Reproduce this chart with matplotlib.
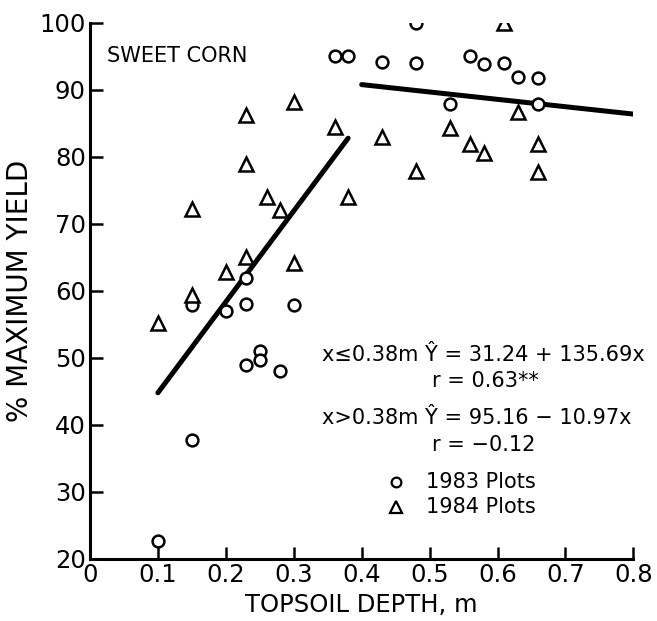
import numpy as np
import matplotlib
matplotlib.use("Agg")
import matplotlib.pyplot as plt

# 1983 plots (circles)
x83 = [0.10, 0.15, 0.15, 0.20, 0.23, 0.23, 0.23, 0.25, 0.25, 0.28, 0.30,
       0.36, 0.38, 0.43, 0.48, 0.48, 0.53, 0.56, 0.58, 0.61, 0.63, 0.66, 0.66]
y83 = [22.7, 37.8, 57.9, 57.0, 58.1, 48.9, 62.0, 51.0, 49.7, 48.1, 57.9,
       95.1, 95.1, 94.2, 100.0, 94.0, 87.9, 95.0, 93.9, 94.0, 91.9, 91.8, 87.9]

# 1984 plots (triangles)
x84 = [0.10, 0.15, 0.15, 0.20, 0.23, 0.23, 0.23, 0.26, 0.28, 0.30, 0.30,
       0.36, 0.38, 0.43, 0.48, 0.53, 0.56, 0.58, 0.61, 0.63, 0.66, 0.66]
y84 = [55.2, 59.4, 72.2, 62.8, 65.1, 86.3, 79.0, 74.0, 72.1, 88.2, 64.2,
       84.5, 74.0, 83.0, 77.9, 84.3, 82.0, 80.6, 100.0, 86.7, 82.0, 77.8]

# fitted lines (end points)
fit_lo_x = [0.10, 0.38]
fit_lo_y = [44.8, 82.8]
fit_hi_x = [0.40, 0.80]
fit_hi_y = [90.8, 86.4]

xticks = [0, 0.1, 0.2, 0.3, 0.4, 0.5, 0.6, 0.7, 0.8]
xticklabels = ["0", "0.1", "0.2", "0.3", "0.4", "0.5", "0.6", "0.7", "0.8"]
yticks = [20, 30, 40, 50, 60, 70, 80, 90, 100]

plt.rcParams["font.family"] = "DejaVu Sans"

fig = plt.figure(figsize=(6.57, 6.21), dpi=100)
ax = fig.add_axes([0.137, 0.100, 0.827, 0.863])

ax.plot(fit_lo_x, fit_lo_y, color="black", lw=3.6, solid_capstyle="round")
ax.plot(fit_hi_x, fit_hi_y, color="black", lw=3.6, solid_capstyle="round")

ax.plot(x83, y83, linestyle="none", marker="o", ms=8.5, mfc="white",
        mec="black", mew=1.8)
ax.plot(x84, y84, linestyle="none", marker="^", ms=9.5, mfc="white",
        mec="black", mew=1.8)

ax.set_xlim(0, 0.8)
ax.set_ylim(20, 100)
ax.set_xticks(xticks)
ax.set_xticklabels(xticklabels)
ax.set_yticks(yticks)

for s in ["top", "right"]:
    ax.spines[s].set_visible(False)
for s in ["left", "bottom"]:
    ax.spines[s].set_linewidth(2.2)
ax.tick_params(direction="in", length=9, width=1.8, labelsize=17.5, pad=3)

ax.set_xlabel("TOPSOIL DEPTH, m", fontsize=17.5, labelpad=4)
ax.set_ylabel("% MAXIMUM YIELD", fontsize=20, labelpad=4)

fs = 15
ax.text(0.025, 95, "SWEET CORN", fontsize=fs, va="center")

ax.text(0.342, 50.5, "x\u22640.38m \u0176 = 31.24 + 135.69x", fontsize=fs, va="center")
ax.text(0.504, 46.6, "r = 0.63**", fontsize=fs, va="center")
ax.text(0.342, 41.0, "x>0.38m \u0176 = 95.16 \u2212 10.97x", fontsize=fs, va="center")
ax.text(0.504, 37.0, "r = \u22120.12", fontsize=fs, va="center")

ax.plot([0.451], [31.5], linestyle="none", marker="o", ms=7, mfc="white",
        mec="black", mew=1.6)
ax.plot([0.451], [27.8], linestyle="none", marker="^", ms=8, mfc="white",
        mec="black", mew=1.6)
ax.text(0.495, 31.5, "1983 Plots", fontsize=fs, va="center")
ax.text(0.495, 27.8, "1984 Plots", fontsize=fs, va="center")

fig.savefig("out.png", dpi=100)
